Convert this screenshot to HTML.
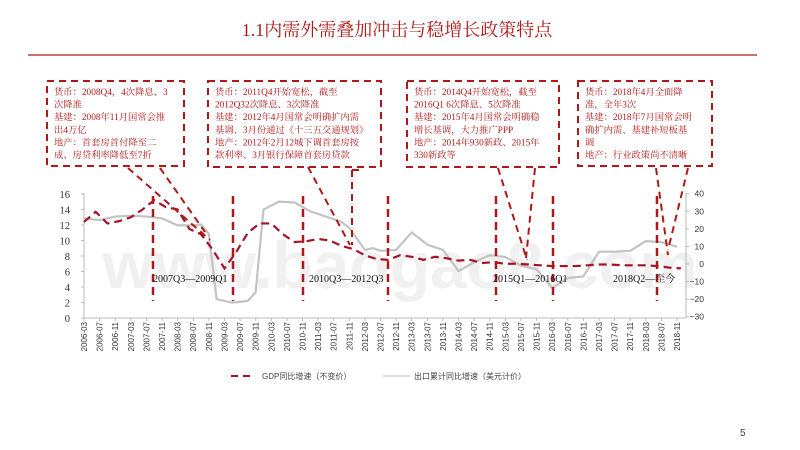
<!DOCTYPE html>
<html><head><meta charset="utf-8">
<style>
body{margin:0;width:800px;height:450px;background:#fff;overflow:hidden;font-family:"Liberation Sans","Noto Sans CJK SC",sans-serif;}
svg{position:absolute;left:0;top:0}
</style></head>
<body>
<svg width="800" height="450" xmlns="http://www.w3.org/2000/svg">
<text x="397" y="36" text-anchor="middle" font-size="18" fill="#b01818" font-family="Liberation Serif,Noto Serif CJK SC,serif">1.1内需外需叠加冲击与稳增长政策特点</text>
<line x1="28" y1="55" x2="757" y2="55" stroke="#b01818" stroke-width="1.2"/>
<text x="400" y="288" text-anchor="middle" font-size="66" font-weight="bold" fill="#f0f0f0" font-family="Liberation Sans,sans-serif">www.baogao8.com</text>
<g id="g"></g>
<text x="740" y="436" font-size="10" fill="#444">5</text>
</svg>
<script>
const xLabels=[];for(let y=2006;y<=2018;y++){for(const m of ['03','07','11'])xLabels.push(y+'-'+m);}
const gdpValues=[12.4,13.7,12.2,12.5, 13.0,14.0,15.2,14.3, 14.0,11.5,10.8,8.8, 6.4,8.5,11.0,12.2, 12.2,10.8,9.8,9.9, 10.2,10.0,9.3,8.9, 8.1,7.6,7.5,8.1, 7.9,7.5,7.9,7.7, 7.4,7.5,7.1,7.2, 7.0,7.0,6.9,6.8, 6.7,6.7,6.7,6.8, 6.9,6.9,6.8,6.8, 6.8,6.7,6.5,6.4];
const exportMonths=[0,4,8,12,16,20,24,28,30,32,34,38,42,44,46,50,54,58,62,66,68,72,74,76,80,84,88,92,96,100,104,108,112,116,120,124,128,132,136,140,144,148,152];
const exportValues=[26,25,27,27.5,27,26,22,22,22.5,17,-20,-22,-21,-16,31,35.5,35,30,27,24,20.5,8,9,7.5,8,18,11,8,-4,1,5,4,-1,-3,-13.7,-8,-7,7,7,7.5,13,12.5,9.8];
const leftTicks=[0,2,4,6,8,10,12,14,16];
const rightTicks=[-30,-20,-10,0,10,20,30,40];
const NS='http://www.w3.org/2000/svg';
const g=document.getElementById('g');
const x0=84,x1=686;
const xm=m=>x0+m*(x1-x0-9)/152;
const yl=v=>318-v*7.75;
const yr=v=>264-v*1.757;
function el(t,a,p){const e=document.createElementNS(NS,t);for(const k in a)e.setAttribute(k,a[k]);(p||g).appendChild(e);return e;}
let a=el('line',{x1:x0,y1:193,x2:x0,y2:318,stroke:'#bbb'});

a=el('line',{x1:x0,y1:318,x2:x1,y2:318,stroke:'#bbb'});

a=el('line',{x1:x1,y1:193,x2:x1,y2:318,stroke:'#bbb'});

leftTicks.forEach(v=>{const t=el('text',{x:70,y:yl(v)+4,'text-anchor':'end','font-size':10.5,fill:'#333','font-family':'Liberation Serif,serif'});t.textContent=v;

el('line',{x1:x0-3,y1:yl(v),x2:x0,y2:yl(v),stroke:'#bbb'});});
rightTicks.forEach(v=>{const t=el('text',{x:704,y:yr(v)+3,'text-anchor':'end','font-size':8.5,fill:'#333'});t.textContent=(v<0?'−':'')+Math.abs(v);

el('line',{x1:x1,y1:yr(v),x2:x1+3,y2:yr(v),stroke:'#bbb'});});
xLabels.forEach((l,i)=>{const x=xm(i*4);const t=el('text',{x:0,y:0,transform:`translate(${x+3},322) rotate(-90)`,'text-anchor':'end','font-size':8,fill:'#333'});t.textContent=l;

el('line',{x1:x,y1:318,x2:x,y2:321,stroke:'#bbb'});});
let p=el('polyline',{points:exportValues.map((v,i)=>xm(exportMonths[i])+','+yr(v)).join(' '),fill:'none',stroke:'#c3c3c3','stroke-width':2.2});

p=el('polyline',{points:gdpValues.map((v,i)=>xm(i*3)+','+yl(v)).join(' '),fill:'none',stroke:'#a5122a','stroke-width':2.2,'stroke-dasharray':'8,5'});

[153,233,303,388,496,553,657].forEach(x=>{const l=el('line',{x1:x,y1:196,x2:x,y2:301,stroke:'#b01818','stroke-width':2.5,'stroke-dasharray':'8,5'});
});
[[128,168,210,240],[160,168,205,232],[308,167,350,245],[352,170,352,245],[352,170,362,170],[498,168,527,260],[535,168,526,258],[656,168,668,255],[688,168,668,250]].forEach(c=>{const l=el('line',{x1:c[0],y1:c[1],x2:c[2],y2:c[3],stroke:'#b01818','stroke-width':2,'stroke-dasharray':'7,5'});
});
[['2007Q3—2009Q1',153],['2010Q3—2012Q3',309],['2015Q1—2016Q1',493],['2018Q2—至今',613]].forEach(d=>{const t=el('text',{x:d[1],y:282,'font-size':10,fill:'#111','font-family':'Liberation Serif,Noto Serif CJK SC,serif'});t.textContent=d[0];
});
const boxes=[[47,81,137,85,['货币：2008Q4，4次降息、3','次降准','基建：2008年11月国常会推','出4万亿','地产：首套房首付降至二','成、房贷利率降低至7折']],
[208,81,173,86,['货币：2011Q4开始宽松，截至','2012Q32次降息、3次降准','基建：2012年4月国常会明确扩内需','基调、3月份通过《十三五交通规划》','地产：2012年2月12城下调首套房按','款利率、3月银行保障首套房贷款']],
[407,81,152,86,['货币：2014Q4开始宽松，截至','2016Q1 6次降息、5次降准','基建：2015年4月国常会明确稳','增长基调，大力推广PPP','地产：2014年930新政、2015年','330新政等']],
[578,81,134,85,['货币：2018年4月全面降','准，全年3次','基建：2018年7月国常会明','确扩内需、基建补短板基','调','地产：行业政策尚不清晰']]];
boxes.forEach(b=>{const r=el('rect',{x:b[0],y:b[1],width:b[2],height:b[3],fill:'#fff',stroke:'#b01818','stroke-width':2,'stroke-dasharray':'7,5'});

b[4].forEach((s,i)=>{const t=el('text',{x:b[0]+7,y:b[1]+14+i*12.6,'font-size':9.3,fill:'#b01818','font-family':'Liberation Serif,Noto Serif CJK SC,serif'});t.textContent=s;
});});
let l=el('line',{x1:231,y1:376,x2:253,y2:376,stroke:'#a5122a','stroke-width':2,'stroke-dasharray':'7,5'});

let t=el('text',{x:262,y:379,'font-size':8,fill:'#444'});t.textContent='GDP同比增速（不变价）';

l=el('line',{x1:383,y1:376,x2:410,y2:376,stroke:'#bbb','stroke-width':1});

t=el('text',{x:414,y:379,'font-size':8,fill:'#444'});t.textContent='出口累计同比增速（美元计价）';

</script>
</body></html>
